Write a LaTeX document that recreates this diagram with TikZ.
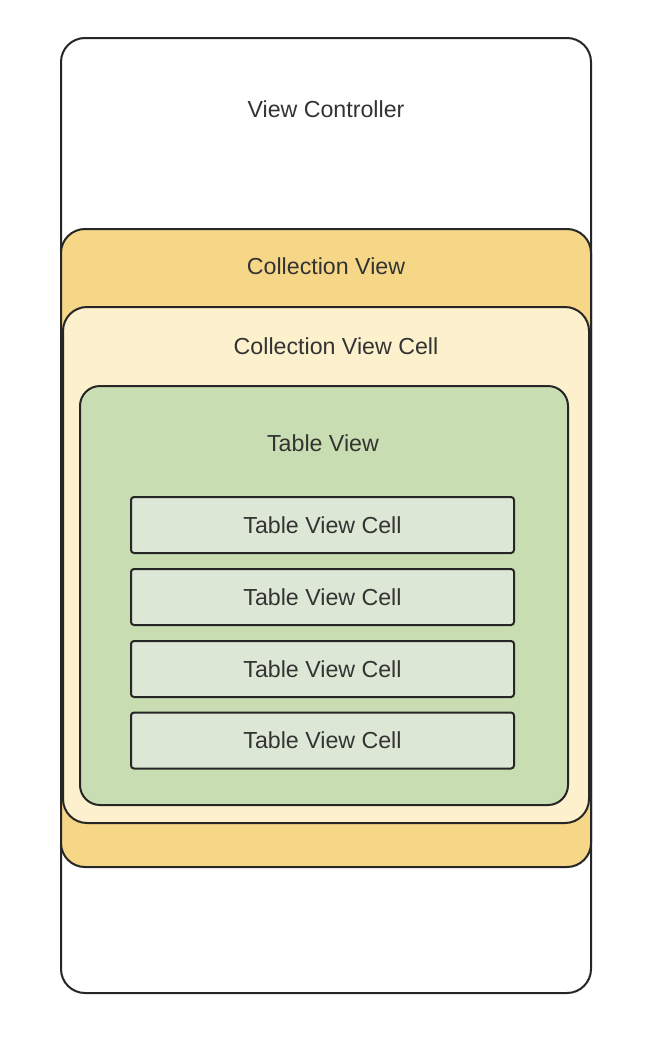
\documentclass[tikz,border=0pt]{standalone}
\usepackage{fontspec}
\setmainfont{Liberation Sans}
\definecolor{cvfill}{HTML}{F5D787}
\definecolor{cvcfill}{HTML}{FCF1CC}
\definecolor{tvfill}{HTML}{C9DDB2}
\definecolor{cellfill}{HTML}{DDE7D5}
\tikzset{
  layer/.style={draw=black!85, line width=2pt, rounded corners=24pt, rectangle, anchor=north west},
  cellbox/.style={draw=black!85, line width=2pt, rounded corners=3pt, rectangle, fill=cellfill,
    minimum width=383pt, minimum height=56pt},
  lbl/.style={text=black!80, font=\fontsize{23.2}{28}\selectfont}
}
\begin{document}
\begin{tikzpicture}[x=1pt,y=-1pt]
\useasboundingbox (0,0) rectangle (648,1044);
\node[layer, fill=white, minimum width=530pt, minimum height=955pt] (vc) at (60,37) {};
\node[layer, fill=cvfill, minimum width=530pt, minimum height=638pt] (cv) at (60,228) {};
\node[layer, fill=cvcfill, minimum width=526pt, minimum height=516pt] (cvc) at (62,306) {};
\node[layer, fill=tvfill, rounded corners=20pt, minimum width=488pt, minimum height=419pt] (tv) at (79,385) {};
\node[lbl] (vclabel) at (326,109) {View Controller};
\node[lbl] (cvlabel) at (326,266) {Collection View};
\node[lbl] (cvclabel) at (336,346) {Collection View Cell};
\node[lbl] (tvlabel) at (323,443) {Table View};
\node[cellbox, lbl] (cell1) at (322.5,525) {Table View Cell};
\node[cellbox, lbl] (cell2) at (322.5,597) {Table View Cell};
\node[cellbox, lbl] (cell3) at (322.5,669) {Table View Cell};
\node[cellbox, lbl] (cell4) at (322.5,740.5) {Table View Cell};
\end{tikzpicture}
\end{document}
